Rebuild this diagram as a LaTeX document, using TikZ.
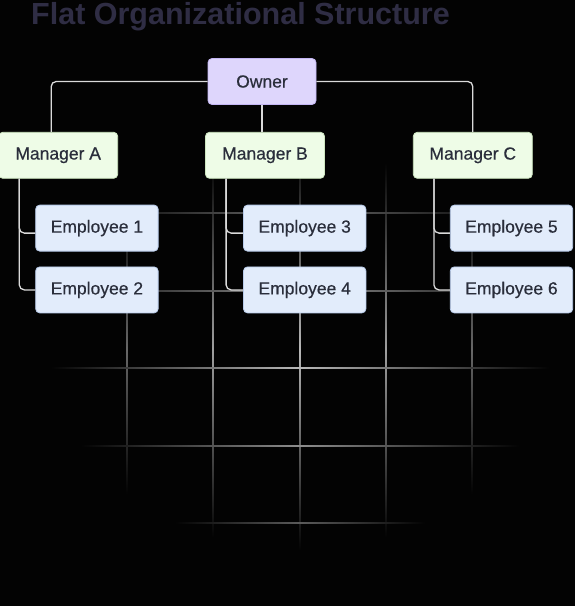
\documentclass[tikz,border=0pt]{standalone}
\usepackage{fontspec}
\setmainfont{Liberation Sans}
\newfontfamily\boxfont{Liberation Sans}[FakeBold=0.5]
\usetikzlibrary{positioning}

\definecolor{pagebg}{HTML}{030303}
\definecolor{titlecol}{HTML}{2F2D44}
\definecolor{boxtext}{HTML}{2A2E3B}
\definecolor{ownerfill}{HTML}{DED6FC}
\definecolor{ownerline}{HTML}{C4B6F4}
\definecolor{mgrfill}{HTML}{EEFCE7}
\definecolor{mgrline}{HTML}{CDE6C0}
\definecolor{empfill}{HTML}{E2ECFB}
\definecolor{empline}{HTML}{B8CBEA}
\definecolor{linkcol}{HTML}{DADADA}

\begin{document}
\begin{tikzpicture}[x=1pt, y=-1pt,
	box/.style={draw, rectangle, rounded corners=4pt, text centered, minimum height=46pt, inner xsep=15pt, line width=0.8pt, text=boxtext, font=\boxfont\fontsize{17.5}{20}\selectfont},
	owner/.style={box, fill=ownerfill, draw=ownerline, minimum width=108pt},
	manager/.style={box, fill=mgrfill, draw=mgrline, minimum width=119pt},
	employee/.style={box, fill=empfill, draw=empline},
	link/.style={draw=linkcol, line width=1.3pt, rounded corners=5pt}]

	% Background
	\fill[pagebg] (0,0) rectangle (575,606);
	\useasboundingbox (0,0) rectangle (575,606);

	% Grid
	\foreach \gx/\ga/\gb/\gs in {127/206/494/40, 213/163/537/62, 300/150/550/72, 386/163/537/62, 472/206/494/40}
		\shade[top color=pagebg, bottom color=pagebg, middle color=white!\gs!pagebg] (\gx-0.6,\ga) rectangle (\gx+0.6,\gb);
	\foreach \gy/\ga/\gb/\gs in {213/91/509/42, 291/57/543/55, 368/51/549/72, 446/81/519/55, 523/175/425/35}
		\shade[left color=pagebg, right color=pagebg, middle color=white!\gs!pagebg] (\ga,\gy-0.6) rectangle (\gb,\gy+0.6);

	% Title
	\node [anchor=base west, inner sep=0pt, text=titlecol, font=\fontsize{30.5}{34}\selectfont\bfseries] (title) at (31,24) {Flat Organizational Structure};

	% Nodes
	\node [owner] (owner) at (262,81.5) {Owner};
	\node [manager, below=27pt of owner, xshift=3pt] (mgrB) {Manager B};
	\node [manager, left=87pt of mgrB] (mgrA) {Manager A};
	\node [manager, right=88pt of mgrB] (mgrC) {Manager C};

	\node [employee, below=26pt of mgrA.south west, anchor=north west, xshift=37pt] (emp1) {Employee 1};
	\node [employee, below=15pt of emp1.south west, anchor=north west] (emp2) {Employee 2};
	\node [employee, below=26pt of mgrB.south west, anchor=north west, xshift=38pt] (emp3) {Employee 3};
	\node [employee, below=15pt of emp3.south west, anchor=north west] (emp4) {Employee 4};
	\node [employee, below=26pt of mgrC.south west, anchor=north west, xshift=37pt] (emp5) {Employee 5};
	\node [employee, below=15pt of emp5.south west, anchor=north west] (emp6) {Employee 6};

	% Lines
	\draw [link] (owner.west) -| ([xshift=-7pt]mgrA.north);
	\draw [link] (owner.east) -| (mgrC.north);
	\draw [link] (owner.south) -- (owner.south |- mgrB.north);

	\coordinate (trunkA) at ([xshift=21pt]mgrA.south west);
	\coordinate (trunkB) at ([xshift=21pt]mgrB.south west);
	\coordinate (trunkC) at ([xshift=21pt]mgrC.south west);

	\draw [link] (trunkA) |- ([yshift=-5pt]emp1.west);
	\draw [link] (trunkA) |- (emp2.west);
	\draw [link] (trunkB) |- ([yshift=-5pt]emp3.west);
	\draw [link] (trunkB) |- (emp4.west);
	\draw [link] (trunkC) |- ([yshift=-5pt]emp5.west);
	\draw [link] (trunkC) |- (emp6.west);

\end{tikzpicture}
\end{document}
